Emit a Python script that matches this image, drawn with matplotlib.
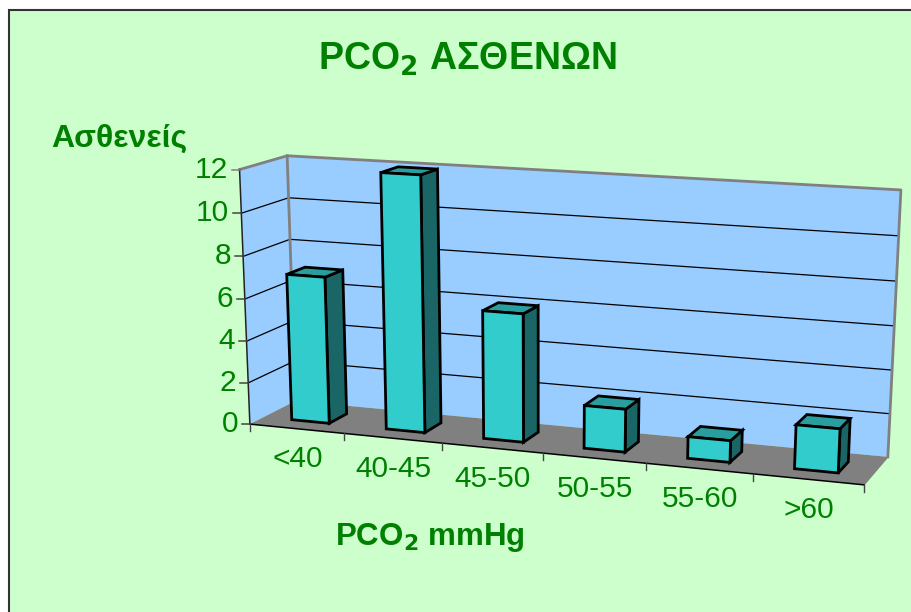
import numpy as np
import matplotlib
matplotlib.use("Agg")
import matplotlib.pyplot as plt
from matplotlib.patches import Polygon, Rectangle

plt.rcParams['font.family'] = ['Liberation Sans', 'DejaVu Sans']
plt.rcParams['mathtext.default'] = 'regular'

categories = ["<40", "40-45", "45-50", "50-55", "55-60", ">60"]
patients = [7, 12, 6, 2, 1, 2]
y_ticks = [0, 2, 4, 6, 8, 10, 12]
y_max = 12

GREEN = "#008000"
PANEL = "#CCFFCC"
WALL = "#99CCFF"
FLOOR = "#808080"
FRONT = "#33CCCC"
TOP = "#299E9E"
SIDE = "#1A6666"

# where the corners of the chart box land on the image, used to fit the perspective
# (across, depth, height) -> pixel
box_corners = [
    ((0, 0, 0), (252.3, 423.3)),
    ((1, 0, 0), (863.7, 486.0)),
    ((1, 1, 0), (888.3, 455.7)),
    ((0, 1, 0), (293.0, 401.7)),
    ((0, 0, 1), (237.3, 169.3)),
    ((0, 1, 1), (289.5, 156.0)),
    ((1, 1, 1), (900.7, 190.0)),
]


def fit_camera(corners):
    rows = []
    for (X, Y, Z), (px, py) in corners:
        rows.append([X, Y, Z, 1, 0, 0, 0, 0, -px * X, -px * Y, -px * Z, -px])
        rows.append([0, 0, 0, 0, X, Y, Z, 1, -py * X, -py * Y, -py * Z, -py])
    return np.linalg.svd(np.array(rows))[2][-1].reshape(3, 4)


camera = fit_camera(box_corners)


def project(cat, depth, value):
    # cat in category units, depth 0-1, value in y axis units
    p = camera @ np.array([cat / len(categories), depth, value / y_max, 1.0])
    return p[0] / p[2], p[1] / p[2]


fig = plt.figure(figsize=(9.12, 6.12), dpi=100, facecolor="white")
ax = fig.add_axes([0, 0, 1, 1])
ax.set_xlim(0, 912)
ax.set_ylim(612, 0)
ax.axis("off")

ax.add_patch(Rectangle((9, 10), 910, 610, fc=PANEL, ec="#333333", lw=1.5, zorder=0))

n = len(categories)


def quad(points, fc, ec, lw, z):
    ax.add_patch(Polygon([project(*p) for p in points], closed=True, fc=fc, ec=ec, lw=lw,
                         joinstyle="miter", zorder=z))


# walls and floor
quad([(0, 1, 0), (n, 1, 0), (n, 1, y_max), (0, 1, y_max)], WALL, "none", 0, 1)
quad([(0, 0, 0), (0, 1, 0), (0, 1, y_max), (0, 0, y_max)], WALL, "none", 0, 1)
quad([(0, 0, 0), (n, 0, 0), (n, 1, 0), (0, 1, 0)], FLOOR, "none", 0, 2)

# gridlines
for t in y_ticks[1:-1]:
    xs, ys = zip(project(0, 0, t), project(0, 1, t), project(n, 1, t))
    ax.plot(xs, ys, color="black", lw=0.9, zorder=3)

# gray wall outline
for pts in ([(0, 0, y_max), (0, 1, y_max), (n, 1, y_max), (n, 1, 0)], [(0, 1, y_max), (0, 1, 0)]):
    xs, ys = zip(*[project(*p) for p in pts])
    ax.plot(xs, ys, color="#808080", lw=2, zorder=3, solid_capstyle="projecting")
xs, ys = zip(project(n, 0, 0), project(n, 1, 0))
ax.plot(xs, ys, color="#808080", lw=1, zorder=3)

# axis lines
xs, ys = zip(project(0, 0, 0), project(0, 0, y_max))
ax.plot(xs, ys, color="#222222", lw=1.1, zorder=4)
xs, ys = zip(project(0, 0, 0), project(n, 0, 0))
ax.plot(xs, ys, color="black", lw=1.1, zorder=4)

# y ticks and labels
for t in y_ticks:
    px, py = project(0, 0, t)
    ax.plot([px - 8, px], [py, py], color="#808080" if t == y_max else "#444444", lw=1.1, zorder=4)
    ax.text(px - 12, py, str(t), color=GREEN, fontsize=21.5, ha="right", va="center", zorder=5)

# x ticks
for i in range(n + 1):
    px, py = project(i, 0, 0)
    ax.plot([px, px], [py, py + 7], color="#444444", lw=1, zorder=4)

# x labels
for i, label in enumerate(categories):
    px, py = project(i + 0.5, 0, 0)
    ax.text(px + 1, py + 30.5, label, color=GREEN, fontsize=21.5, ha="center", va="center", zorder=5)

# bars, left to right
gap = 0.3
for i, v in enumerate(patients):
    a, b = i + gap, i + 1 - gap
    d0, d1 = gap, 1 - gap
    quad([(b, d0, 0), (b, d1, 0), (b, d1, v), (b, d0, v)], SIDE, "black", 2, 6 + i)
    quad([(a, d0, v), (b, d0, v), (b, d1, v), (a, d1, v)], TOP, "black", 2, 6 + i)
    quad([(a, d0, 0), (b, d0, 0), (b, d0, v), (a, d0, v)], FRONT, "black", 2, 6 + i)

ax.text(467.5, 59, r"PCO$_{\mathbf{2}}$ ΑΣΘΕΝΩΝ", color=GREEN, fontsize=27, fontweight="bold",
        ha="center", va="center", zorder=5)
ax.text(119, 139, "Ασθενείς", color=GREEN, fontsize=23, fontweight="bold",
        ha="center", va="center", zorder=5)
ax.text(429.5, 538, r"PCO$_{\mathbf{2}}$ mmHg", color=GREEN, fontsize=22.5, fontweight="bold",
        ha="center", va="center", zorder=5)

fig.savefig("out.png", dpi=100)
